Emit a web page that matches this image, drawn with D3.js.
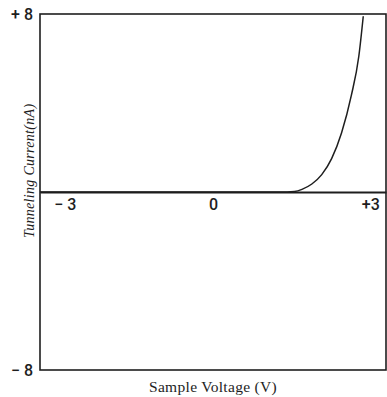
<!DOCTYPE html>
<html>
<head>
<meta charset="utf-8">
<script src="https://cdn.jsdelivr.net/npm/d3@7"></script>
<style>
  body { margin: 0; background: #fff; }
  svg { display: block; }
</style>
</head>
<body>
<div id="chart"></div>
<script>
// values
const voltage = [-3.5, -2, -1, 0, 1, 1.5, 1.65, 1.8, 2.0, 2.2, 2.4, 2.6, 2.8, 2.95, 3.04];
const current = [0, 0, 0, 0, 0, 0, 0.02, 0.12, 0.36, 0.78, 1.5, 2.65, 4.35, 6.1, 7.9];
const xTicks = [-3, 0, 3];
const xTickLabels = ["\u2212 3", "0", "+3"];
const yTicks = [8, -8];
const yTickLabels = ["+ 8", "\u2212 8"];

const width = 387, height = 397;
const margin = { top: 14, right: 1, bottom: 27, left: 40 };

const svg = d3.select("#chart").append("svg")
    .attr("width", width)
    .attr("height", height);

const x = d3.scaleLinear()
    .domain([-3.5, 3.5])
    .range([margin.left, width - margin.right]);

const y = d3.scaleLinear()
    .domain([-8, 8])
    .range([height - margin.bottom, margin.top]);

const ink = "#1e1e1e";
const tickFont = "Roboto, 'Liberation Sans', Arial, sans-serif";

// frame
svg.append("rect")
    .attr("x", x(-3.5))
    .attr("y", y(8))
    .attr("width", x(3.5) - x(-3.5))
    .attr("height", y(-8) - y(8))
    .attr("fill", "none")
    .attr("stroke", ink)
    .attr("stroke-width", 1.6);

// zero current line acts as the x axis
const xAxis = d3.axisBottom(x)
    .tickValues(xTicks)
    .tickSize(0)
    .tickPadding(7)
    .tickFormat((d, i) => xTickLabels[i]);

const xAxisG = svg.append("g")
    .attr("transform", `translate(0,${y(0)})`)
    .call(xAxis);
xAxisG.select(".domain").attr("stroke", ink).attr("stroke-width", 1.8);
xAxisG.selectAll("text")
    .attr("fill", ink)
    .style("font-family", tickFont)
    .style("font-weight", 500)
    .style("font-size", "16px");
// +3 sits a bit right of its tick like in the scan
xAxisG.selectAll(".tick").filter(d => d === 3).select("text").attr("dx", 9);

// y axis labels only at the ends
const yAxis = d3.axisLeft(y)
    .tickValues(yTicks)
    .tickSize(0)
    .tickPadding(7)
    .tickFormat((d, i) => yTickLabels[i]);

const yAxisG = svg.append("g")
    .attr("transform", `translate(${margin.left},0)`)
    .call(yAxis);
yAxisG.select(".domain").remove();
yAxisG.selectAll("text")
    .attr("fill", ink)
    .style("font-family", tickFont)
    .style("font-weight", 500)
    .style("font-size", "16px");

// the curve
const line = d3.line()
    .x((d, i) => x(voltage[i]))
    .y((d, i) => y(current[i]))
    .curve(d3.curveMonotoneX);

svg.append("path")
    .datum(voltage)
    .attr("d", line)
    .attr("fill", "none")
    .attr("stroke", ink)
    .attr("stroke-width", 1.5);

// axis titles
svg.append("text")
    .attr("x", x(0))
    .attr("y", height - 5)
    .attr("text-anchor", "middle")
    .attr("fill", ink)
    .style("font-family", "'Liberation Serif', 'DejaVu Serif', serif")
    .style("font-size", "15.5px")
    .style("letter-spacing", "0.3px")
    .text("Sample Voltage (V)");

svg.append("text")
    .attr("transform", `translate(34,${y(0.95)}) rotate(-90)`)
    .attr("text-anchor", "middle")
    .attr("fill", ink)
    .style("font-family", "'Liberation Serif', 'DejaVu Serif', serif")
    .style("font-style", "italic")
    .style("font-size", "14px")
    .style("letter-spacing", "0.3px")
    .text("Tunneling Current(nA)");
</script>
</body>
</html>
